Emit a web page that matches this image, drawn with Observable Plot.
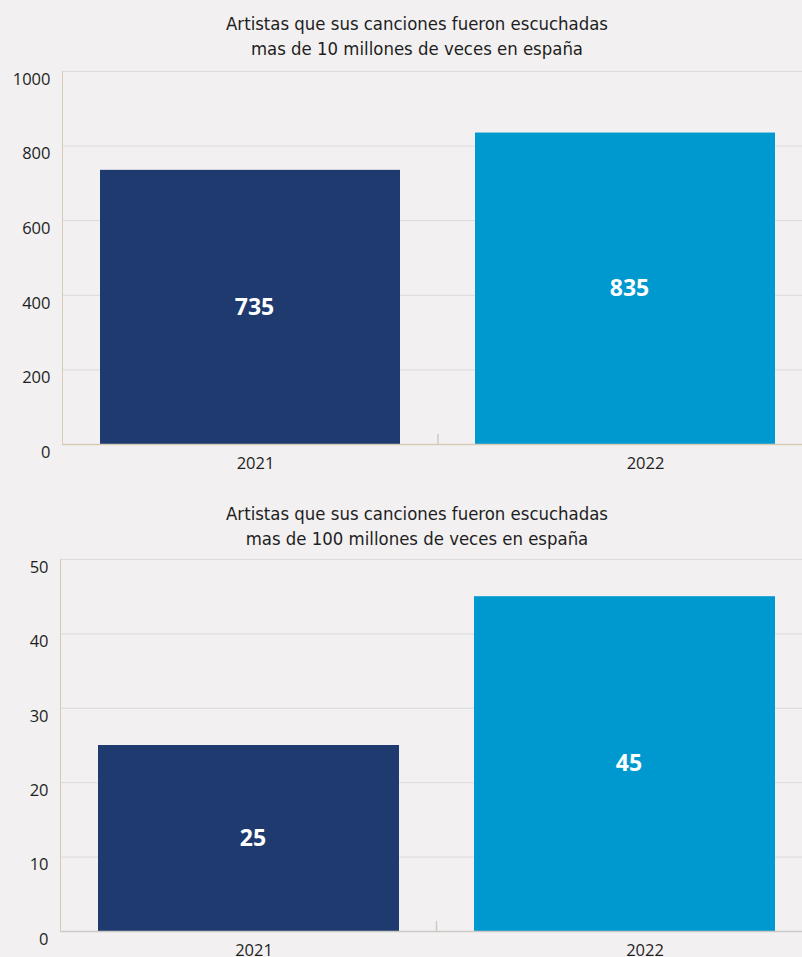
<!DOCTYPE html>
<html><head><meta charset="utf-8">
<script src="https://cdn.jsdelivr.net/npm/d3@7"></script>
<script src="https://cdn.jsdelivr.net/npm/@observablehq/plot@0.6"></script>
<style>
body{margin:0;background:#f2f0f1;width:802px;height:957px;overflow:hidden;}
.title{font-family:"Liberation Sans Narrow","DejaVu Sans Condensed",sans-serif;font-size:18.4px;line-height:25px;text-align:center;color:#1e1e1e;padding-top:10.5px;padding-left:32px;}
svg{display:block;}
</style></head><body><div id="c"></div>
<script>
const years = ["2021", "2022"];
const artists10M = [735, 835];
const artists100M = [25, 45];
const yTicks10M = [0, 200, 400, 600, 800, 1000];
const yTicks100M = [0, 10, 20, 30, 40, 50];
const barColors = ["#1f3a6e", "#0099cf"];
const titles10M = ["Artistas que sus canciones fueron escuchadas", "mas de 10 millones de veces en españa"];
const titles100M = ["Artistas que sus canciones fueron escuchadas", "mas de 100 millones de veces en españa"];

function chart(values, ticks, o) {
  const data = years.map((y, i) => ({year: y, value: values[i]}));
  const yMax = ticks[ticks.length - 1];
  return Plot.plot({
    width: 802, height: o.height,
    marginLeft: o.marginLeft, marginRight: -10, marginTop: o.marginTop, marginBottom: o.marginBottom,
    style: {background: "transparent", fontFamily: "Open Sans", fontSize: "16.5px", color: "#1e1e1e", overflow: "hidden"},
    x: {domain: years, paddingInner: 0.2, paddingOuter: 0.1, label: null},
    y: {domain: [0, yMax], label: null},
    color: {domain: years, range: barColors},
    marks: [
      Plot.gridY(ticks, {stroke: "#dcdadb", strokeOpacity: 1}),
      Plot.barY(data, {x: "year", y: "value", fill: "year"}),
      Plot.ruleY([0], {stroke: o.baseColor, strokeWidth: 1.5}),
      Plot.frame({anchor: "left", stroke: "#d6ccb6"}),
      Plot.ruleX([years[0]], {x: d => d, dx: 187.5, y1: 0, y2: yMax * 0.027, stroke: "#cfcac0", strokeWidth: 1.5}),
      Plot.text(data, {x: "year", y: d => d.value / 2, text: d => String(d.value), fill: "white", fontWeight: "bold", fontSize: 23, dx: 4}),
      Plot.axisY(ticks, {tickSize: 0, tickPadding: 12, dy: 8, label: null, tickFormat: d => String(d)}),
      Plot.axisX([years[0]], {tickSize: 0, tickPadding: 13, dx: 5, label: null}),
      Plot.axisX([years[1]], {tickSize: 0, tickPadding: 13, dx: 20, label: null})
    ]
  });
}

function title(lines) {
  const d = document.createElement("div");
  d.className = "title";
  d.innerHTML = lines.join("<br>");
  return d;
}

const c = document.getElementById("c");
c.appendChild(title(titles10M));
c.appendChild(chart(artists10M, yTicks10M, {height: 430, marginLeft: 62, marginTop: 10, marginBottom: 47, baseColor: "#d6ccb6"}));
c.appendChild(title(titles100M));
c.appendChild(chart(artists100M, yTicks100M, {height: 420, marginLeft: 60, marginTop: 8, marginBottom: 40, baseColor: "#cbc9c6"}));
</script>
</body></html>
